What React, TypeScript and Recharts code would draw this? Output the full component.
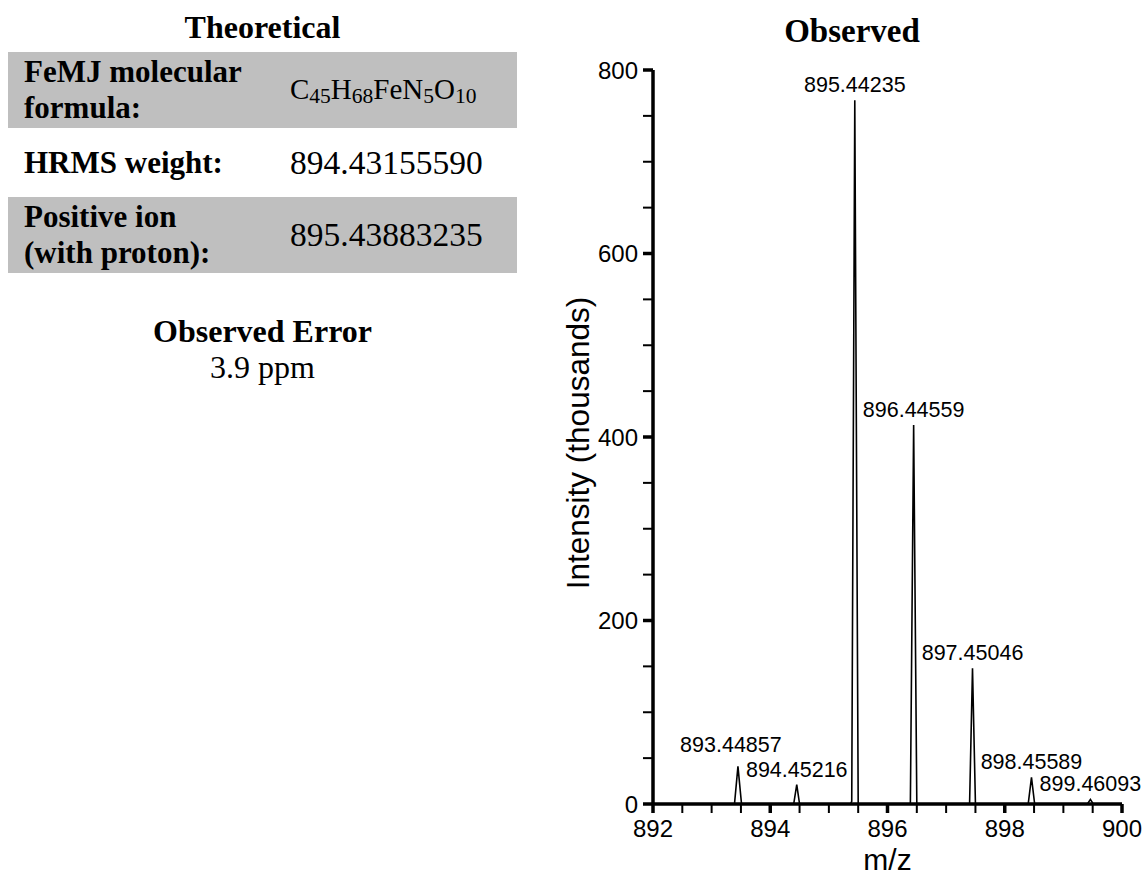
import React from 'react';
import { ComposedChart, Line, Scatter, XAxis, YAxis } from 'recharts';

// profile spectrum (intensity in thousands)
const spectrumMz = [
  892, 893.39, 893.449, 893.51, 894.40, 894.452, 894.50, 895.37, 895.39, 895.442, 895.50,
  896.39, 896.446, 896.50, 897.40, 897.450, 897.50, 898.40, 898.456, 898.51, 899.41,
  899.461, 899.51, 900,
];
const spectrumIntensity = [
  0, 0, 41, 0, 0, 21, 0, 0, 3, 767, 0,
  0, 413, 0, 0, 148, 0, 0, 29, 0, 0,
  5, 0, 0,
];

const peakMz = [893.44857, 894.45216, 895.44235, 896.44559, 897.45046, 898.45589, 899.46093];
const peakIntensity = [41, 21, 767, 413, 148, 29, 5];
const peakLabels = ['893.44857', '894.45216', '895.44235', '896.44559', '897.45046', '898.45589', '899.46093'];

const xTicks = [892, 892.5, 893, 893.5, 894, 894.5, 895, 895.5, 896, 896.5, 897, 897.5, 898, 898.5, 899, 899.5, 900];
const xMajorTicks = [892, 894, 896, 898, 900];
const yTicks = [0, 50, 100, 150, 200, 250, 300, 350, 400, 450, 500, 550, 600, 650, 700, 750, 800];
const yMajorTicks = [0, 200, 400, 600, 800];

const theoryLabels = [['FeMJ molecular', 'formula:'], ['HRMS weight:'], ['Positive ion', '(with proton):']];
const theoryValues = ['C45H68FeN5O10', '894.43155590', '895.43883235'];
const observedError = '3.9 ppm';

const spectrumData = spectrumMz.map((mz, i) => ({ mz, intensity: spectrumIntensity[i] }));
const peakData = peakMz.map((mz, i) => ({ mz, intensity: peakIntensity[i], label: peakLabels[i] }));

const SANS = "'Liberation Sans', Arial, Helvetica, sans-serif";
const SERIF = "'Liberation Serif', 'Times New Roman', serif";

const XTick = (props: any) => {
  const { x, y, payload } = props;
  const major = xMajorTicks.includes(payload.value);
  return (
    <g>
      <line x1={x} x2={x} y1={y} y2={y + 9} stroke="#000" strokeWidth={major ? 3.5 : 2} />
      {major && (
        <text x={x} y={y + 33} textAnchor="middle" fontSize={24} fontFamily={SANS} fill="#000">
          {payload.value}
        </text>
      )}
    </g>
  );
};

const YTick = (props: any) => {
  const { x, y, payload } = props;
  const major = yMajorTicks.includes(payload.value);
  return (
    <g>
      <line x1={x - 10} x2={x} y1={y} y2={y} stroke="#000" strokeWidth={major ? 3.5 : 2} />
      {major && (
        <text x={x - 15} y={y + 8.5} textAnchor="end" fontSize={24} fontFamily={SANS} fill="#000">
          {payload.value}
        </text>
      )}
    </g>
  );
};

// small nudges so labels sit where the original put them
const labelNudge: Record<string, [number, number]> = { '893.44857': [-7, -6] };

const PeakLabel = (props: any) => {
  const { cx, cy, payload } = props;
  const [dx, dy] = labelNudge[payload.label] || [0, 0];
  return (
    <text x={cx + dx} y={cy - 8 + dy} textAnchor="middle" fontSize={21.5} fontFamily={SANS} fill="#000">
      {payload.label}
    </text>
  );
};

const Formula = ({ text }: { text: string }) => {
  const parts = text.match(/[A-Z][a-z]?|\d+/g) || [];
  return (
    <span style={{ fontSize: 29 }}>
      {parts.map((p, i) =>
        /\d/.test(p) ? (
          <span key={i} style={{ fontSize: 21.5, position: 'relative', top: 4 }}>{p}</span>
        ) : (
          <span key={i}>{p}</span>
        )
      )}
    </span>
  );
};

const rowBoxes = [
  { top: 52, height: 76, gray: true },
  { top: 128, height: 69, gray: false },
  { top: 197, height: 76, gray: true },
];

export default function App() {
  return (
    <div style={{ position: 'absolute', left: 0, top: 0, width: 1147, height: 876, background: '#fff', color: '#000' }}>
      {/* theoretical table */}
      <div style={{ position: 'absolute', left: 8, top: 9, width: 509, textAlign: 'center', fontFamily: SERIF, fontWeight: 'bold', fontSize: 32, lineHeight: '36px' }}>
        Theoretical
      </div>
      {rowBoxes.map((r, i) => (
        <div
          key={i}
          style={{
            position: 'absolute', left: 8, top: r.top, width: 509, height: r.height,
            background: r.gray ? '#bfbfbf' : '#fff', display: 'flex', alignItems: 'center', fontFamily: SERIF,
          }}
        >
          <div style={{ position: 'absolute', left: 16, fontWeight: 'bold', fontSize: 31, lineHeight: '36px' }}>
            {theoryLabels[i].map((l, j) => <div key={j}>{l}</div>)}
          </div>
          <div style={{ position: 'absolute', left: 282, fontSize: 33.5, lineHeight: '36px' }}>
            {i === 0 ? <Formula text={theoryValues[i]} /> : theoryValues[i]}
          </div>
        </div>
      ))}
      <div style={{ position: 'absolute', left: 8, top: 313, width: 509, textAlign: 'center', fontFamily: SERIF, fontSize: 32, lineHeight: '36px' }}>
        <div style={{ fontWeight: 'bold' }}>Observed Error</div>
        <div>{observedError}</div>
      </div>

      {/* observed spectrum */}
      <div style={{ position: 'absolute', left: 702, top: 13, width: 300, textAlign: 'center', fontFamily: SERIF, fontWeight: 'bold', fontSize: 33, lineHeight: '36px' }}>
        Observed
      </div>
      <div style={{ position: 'absolute', left: 540, top: 0 }}>
        <ComposedChart width={607} height={876} margin={{ top: 70, right: 25, bottom: 12, left: 20 }}>
          <XAxis
            dataKey="mz"
            type="number"
            domain={[892, 900]}
            ticks={xTicks}
            interval={0}
            height={60}
            tickSize={0}
            tickMargin={0}
            tickLine={false}
            tick={<XTick />}
            axisLine={{ stroke: '#000', strokeWidth: 3.5 }}
            label={{
              content: (p: any) => {
                const vb = p.viewBox;
                return (
                  <text x={vb.x + vb.width / 2} y={vb.y + 66} textAnchor="middle" fontSize={30} fontFamily={SANS} fill="#000">
                    m/z
                  </text>
                );
              },
            }}
          />
          <YAxis
            type="number"
            domain={[0, 800]}
            ticks={yTicks}
            interval={0}
            width={93}
            tickSize={0}
            tickMargin={0}
            tickLine={false}
            tick={<YTick />}
            axisLine={{ stroke: '#000', strokeWidth: 3.5 }}
            label={{
              content: (p: any) => {
                const vb = p.viewBox;
                const lx = vb.x + 29;
                const ly = vb.y + vb.height / 2 + 6;
                return (
                  <text x={lx} y={ly} transform={`rotate(-90, ${lx}, ${ly})`} textAnchor="middle" fontSize={31.5} fontFamily={SANS} fill="#000">
                    Intensity (thousands)
                  </text>
                );
              },
            }}
          />
          <Line
            data={spectrumData}
            dataKey="intensity"
            type="linear"
            stroke="#000"
            strokeWidth={1.6}
            dot={false}
            activeDot={false}
            isAnimationActive={false}
          />
          <Scatter data={peakData} dataKey="intensity" shape={<PeakLabel />} isAnimationActive={false} />
        </ComposedChart>
      </div>
    </div>
  );
}
